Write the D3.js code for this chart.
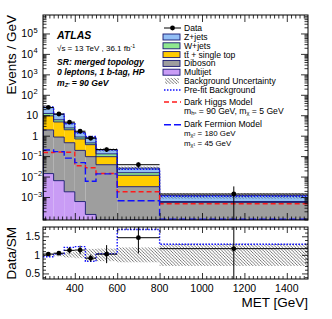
<!DOCTYPE html>
<html>
<head>
<meta charset="utf-8">
<script src="https://cdn.jsdelivr.net/npm/d3@7"></script>
<style>
body { margin: 0; background: #fff; }
svg { font-family: "Liberation Sans", Arial, Helvetica, sans-serif; }
</style>
</head>
<body>
<div id="wrapper"></div>
<script>
//****************************1. Data

const binEdges = [250, 300, 350, 400, 450, 500, 600, 800, 1500]

const dataVals    = [24, 11.5, 4.6, 1.65, 0.75, 0.21, 0.038, 0.0014]
const dataErrUp   = [1.0, 0.6, 0.35, 0.17, 0.08, 0.05, 0.011, 0.0019]
const dataErrDown = [1.0, 0.6, 0.35, 0.17, 0.08, 0.05, 0.011, 0.0014]

const multijet = [0.014, 0.0063, 0.0018, 0.0006, 0.00014, 0, 0, 0]
const diboson  = [1.9, 0.85, 0.45, 0.19, 0.094, 0.038, 0.0032, 0.00055]
const ttbar    = [7.4, 3.85, 1.5, 0.5, 0.27, 0.056, 0.0083, 0.00002]
const wjets    = [2.9, 1.3, 0.45, 0.17, 0.08, 0.035, 0.004, 0.00003]
const zjets    = [11.3, 5.0, 1.7, 0.6, 0.38, 0.077, 0.0105, 0.0006]

const bkgUnc   = [0.03, 0.04, 0.07, 0.09, 0.16, 0.17, 0.2, 0.3]   // relative
const prefit   = [25.3, 11.2, 3.83, 1.35, 0.91, 0.204, 0.0226, 0.00109]

const darkHiggs   = [0.15, 0.16, 0.155, 0.034, 0.027, 0.014, 0.0018, 0.00047]
const darkFermion = [0.2, 0.165, 0.08, 0.048, 0.0059, 0.0135, 0.00066, 0.000083]

const yMajor = [1e-3, 1e-2, 1e-1, 1, 10, 1e2, 1e3, 1e4, 1e5]
const yLabels = [["10","-3"],["10","-2"],["10","-1"],["1",""],["10",""],["10","2"],["10","3"],["10","4"],["10","5"]]
const xMajor = [400, 600, 800, 1000, 1200, 1400]
const rMajor = [0.5, 1, 1.5]
const rLabels = ["0.5", "1", "1.5"]

const stackKeys = ["multijet", "diboson", "ttbar", "wjets", "zjets"]
const stackColors = {multijet: "#c99cf5", diboson: "#9e9e9e", ttbar: "#ffcc00", wjets: "#8fe88f", zjets: "#93bff5"}

//****************************2. Dimensions

const dims = {
    width: 332, height: 319,
    left: 43, right: 308,
    mainTop: 15, mainBottom: 220,
    ratioTop: 227, ratioBottom: 279
}

const outline = "#161670"

//****************************3. Canvas

const svg = d3.select("#wrapper").append("svg")
    .attr("width", dims.width)
    .attr("height", dims.height)

const defs = svg.append("defs")
const hatch = defs.append("pattern")
    .attr("id", "hatch")
    .attr("patternUnits", "userSpaceOnUse")
    .attr("width", 3.2).attr("height", 3.2)
hatch.append("path")
    .attr("d", "M-1,-1 L4.2,4.2 M-1,2.2 L1,4.2 M2.2,-1 L4.2,1")
    .attr("stroke", "#222").attr("stroke-width", 0.6)

defs.append("clipPath").attr("id", "clipMain").append("rect")
    .attr("x", dims.left).attr("y", dims.mainTop)
    .attr("width", dims.right - dims.left).attr("height", dims.mainBottom - dims.mainTop)
defs.append("clipPath").attr("id", "clipRatio").append("rect")
    .attr("x", dims.left).attr("y", dims.ratioTop)
    .attr("width", dims.right - dims.left).attr("height", dims.ratioBottom - dims.ratioTop)

//****************************4. Scales

const xScale = d3.scaleLinear().domain([250, 1500]).range([dims.left, dims.right])
const yScale = d3.scaleLog().domain([7.5e-5, 8e5]).range([dims.mainBottom, dims.mainTop]).clamp(true)
const rScale = d3.scaleLinear().domain([0.35, 1.75]).range([dims.ratioBottom, dims.ratioTop]).clamp(true)
const yMin = yScale.domain()[0]
const yv = v => yScale(Math.max(v, yMin))

const bins = d3.range(binEdges.length - 1).map(i => ({
    i, lo: binEdges[i], hi: binEdges[i + 1], mid: (binEdges[i] + binEdges[i + 1]) / 2,
    multijet: multijet[i], diboson: diboson[i], ttbar: ttbar[i], wjets: wjets[i], zjets: zjets[i]
}))
bins.forEach(b => { b.total = d3.sum(stackKeys, k => b[k]) })

const series = d3.stack().keys(stackKeys)(bins)

// step path helper: values per bin -> outline
const stepPath = (vals, ys) => {
    const pts = []
    vals.forEach((v, i) => { pts.push([xScale(binEdges[i]), ys(v)]) })
    pts.push([xScale(binEdges[binEdges.length - 1]), ys(vals[vals.length - 1])])
    return d3.line().curve(d3.curveStepAfter)(pts)
}

//****************************5. Main panel

const main = svg.append("g").attr("clip-path", "url(#clipMain)")

series.forEach(s => {
    main.append("g").selectAll("rect")
        .data(s)
        .join("rect")
        .attr("x", (d, i) => xScale(binEdges[i]))
        .attr("width", (d, i) => xScale(binEdges[i + 1]) - xScale(binEdges[i]))
        .attr("y", d => yv(d[1]))
        .attr("height", d => Math.max(0, yv(d[0]) - yv(d[1])))
        .attr("fill", stackColors[s.key])
})

series.forEach(s => {
    const tops = s.map(d => d[1])
    const pts = [[xScale(binEdges[0]), dims.mainBottom + 2]]
    tops.forEach((v, i) => pts.push([xScale(binEdges[i]), yv(v)]))
    pts.push([xScale(binEdges[binEdges.length - 1]), yv(tops[tops.length - 1])])
    main.append("path")
        .attr("d", d3.line().curve(d3.curveStepAfter)(pts))
        .attr("fill", "none").attr("stroke", outline).attr("stroke-width", 0.9)
})

// background uncertainty
main.append("g").selectAll("rect")
    .data(bins)
    .join("rect")
    .attr("x", d => xScale(d.lo))
    .attr("width", d => xScale(d.hi) - xScale(d.lo))
    .attr("y", d => yv(d.total * (1 + bkgUnc[d.i])))
    .attr("height", d => yv(d.total * (1 - bkgUnc[d.i])) - yv(d.total * (1 + bkgUnc[d.i])))
    .attr("fill", "url(#hatch)")

// prefit background
main.append("path")
    .attr("d", stepPath(prefit, yv))
    .attr("fill", "none").attr("stroke", "#1010ff").attr("stroke-width", 1.4)
    .attr("stroke-dasharray", "1.5,1.5")

// signals
main.append("path")
    .attr("d", stepPath(darkHiggs, yv))
    .attr("fill", "none").attr("stroke", "#ff1a1a").attr("stroke-width", 1.4)
    .attr("stroke-dasharray", "5,3")
main.append("path")
    .attr("d", stepPath(darkFermion, yv))
    .attr("fill", "none").attr("stroke", "#1010ff").attr("stroke-width", 1.4)
    .attr("stroke-dasharray", "7,3")

// data
const dataG = main.append("g")
bins.forEach(b => {
    const i = b.i
    dataG.append("line")
        .attr("x1", xScale(b.lo)).attr("x2", xScale(b.hi))
        .attr("y1", yv(dataVals[i])).attr("y2", yv(dataVals[i]))
        .attr("stroke", "black").attr("stroke-width", 1)
    dataG.append("line")
        .attr("x1", xScale(b.mid)).attr("x2", xScale(b.mid))
        .attr("y1", yv(dataVals[i] + dataErrUp[i]))
        .attr("y2", dataVals[i] - dataErrDown[i] > 0 ? yv(dataVals[i] - dataErrDown[i]) : dims.mainBottom + 2)
        .attr("stroke", "black").attr("stroke-width", 1)
    dataG.append("circle")
        .attr("cx", xScale(b.mid)).attr("cy", yv(dataVals[i])).attr("r", 2.4)
        .attr("fill", "black")
})

//****************************6. Ratio panel

const ratio = svg.append("g").attr("clip-path", "url(#clipRatio)")

ratio.append("g").selectAll("rect")
    .data(bins)
    .join("rect")
    .attr("x", d => xScale(d.lo))
    .attr("width", d => xScale(d.hi) - xScale(d.lo))
    .attr("y", d => rScale(1 + bkgUnc[d.i]))
    .attr("height", d => rScale(1 - bkgUnc[d.i]) - rScale(1 + bkgUnc[d.i]))
    .attr("fill", "url(#hatch)")

const prefitRatio = bins.map(b => dataVals[b.i] / prefit[b.i])
ratio.append("path")
    .attr("d", stepPath(prefitRatio, rScale))
    .attr("fill", "none").attr("stroke", "#1010ff").attr("stroke-width", 1.4)
    .attr("stroke-dasharray", "1.5,1.5")

bins.forEach(b => {
    const i = b.i
    const r = dataVals[i] / b.total
    const up = (dataVals[i] + dataErrUp[i]) / b.total
    const dn = (dataVals[i] - dataErrDown[i]) / b.total
    ratio.append("line")
        .attr("x1", xScale(b.lo)).attr("x2", xScale(b.hi))
        .attr("y1", rScale(r)).attr("y2", rScale(r))
        .attr("stroke", "black").attr("stroke-width", 1)
    ratio.append("line")
        .attr("x1", xScale(b.mid)).attr("x2", xScale(b.mid))
        .attr("y1", rScale(up) - (up > 1.75 ? 2 : 0)).attr("y2", rScale(dn) + (dn < 0.35 ? 2 : 0))
        .attr("stroke", "black").attr("stroke-width", 1)
    ratio.append("circle")
        .attr("cx", xScale(b.mid)).attr("cy", rScale(r)).attr("r", 2.4)
        .attr("fill", "black")
})

//****************************7. Axes

const xMinor = d3.range(260, 1500, 20).filter(v => v % 200 !== 0)
const yMinor = []
d3.range(-5, 6).forEach(e => d3.range(2, 10).forEach(m => {
    const v = m * Math.pow(10, e)
    if (v > 7.5e-5 && v < 8e5) yMinor.push(v)
}))
const rMinor = d3.range(0.4, 1.75, 0.1).map(v => +v.toFixed(2)).filter(v => !rMajor.includes(v))

const axes = svg.append("g")
const addAxis = (gen, scale, values, size, tx, ty) => {
    const g = axes.append("g")
        .attr("transform", `translate(${tx},${ty})`)
        .call(gen(scale).tickValues(values).tickSize(-size).tickFormat(""))
    g.select(".domain").remove()
    g.selectAll(".tick line").attr("stroke", "black").attr("stroke-width", 0.8)
    return g
}

// main panel x ticks (bottom & top)
addAxis(d3.axisBottom, xScale, xMajor, 7, 0, dims.mainBottom)
addAxis(d3.axisBottom, xScale, xMinor, 3.5, 0, dims.mainBottom)
addAxis(d3.axisTop, xScale, xMajor, 7, 0, dims.mainTop)
addAxis(d3.axisTop, xScale, xMinor, 3.5, 0, dims.mainTop)
// main panel y ticks
addAxis(d3.axisLeft, yScale, yMajor, 7, dims.left, 0)
addAxis(d3.axisLeft, yScale, yMinor, 3.5, dims.left, 0)
addAxis(d3.axisRight, yScale, yMajor, 7, dims.right, 0)
addAxis(d3.axisRight, yScale, yMinor, 3.5, dims.right, 0)
// ratio panel
addAxis(d3.axisBottom, xScale, xMajor, 6, 0, dims.ratioBottom)
addAxis(d3.axisBottom, xScale, xMinor, 3, 0, dims.ratioBottom)
addAxis(d3.axisTop, xScale, xMajor, 6, 0, dims.ratioTop)
addAxis(d3.axisTop, xScale, xMinor, 3, 0, dims.ratioTop)
addAxis(d3.axisLeft, rScale, rMajor, 6, dims.left, 0)
addAxis(d3.axisLeft, rScale, rMinor, 3, dims.left, 0)
addAxis(d3.axisRight, rScale, rMajor, 6, dims.right, 0)
addAxis(d3.axisRight, rScale, rMinor, 3, dims.right, 0)

// frames
svg.append("rect").attr("x", dims.left).attr("y", dims.mainTop)
    .attr("width", dims.right - dims.left).attr("height", dims.mainBottom - dims.mainTop)
    .attr("fill", "none").attr("stroke", "black").attr("stroke-width", 1)
svg.append("rect").attr("x", dims.left).attr("y", dims.ratioTop)
    .attr("width", dims.right - dims.left).attr("height", dims.ratioBottom - dims.ratioTop)
    .attr("fill", "none").attr("stroke", "black").attr("stroke-width", 1)

// tick labels
const yLab = svg.append("g").attr("font-size", 10.5)
yMajor.forEach((v, i) => {
    yLab.append("text")
        .attr("x", dims.left - (yLabels[i][1] ? 10 : 5))
        .attr("y", yScale(v) + 4)
        .attr("text-anchor", "end")
        .text(yLabels[i][0])
    if (yLabels[i][1]) {
        yLab.append("text")
            .attr("x", dims.left - 10 + 0.5)
            .attr("y", yScale(v) - 0.5)
            .attr("font-size", 7.5)
            .text(yLabels[i][1].replace("-", "\u2212"))
    }
})

const rLab = svg.append("g").attr("font-size", 10.5).attr("text-anchor", "end")
rMajor.forEach((v, i) => {
    rLab.append("text").attr("x", dims.left - 3).attr("y", rScale(v) + 4).text(rLabels[i])
})

const xLab = svg.append("g").attr("font-size", 10.5).attr("text-anchor", "middle")
xMajor.forEach(v => {
    xLab.append("text").attr("x", xScale(v)).attr("y", dims.ratioBottom + 13).text(v)
})

// axis titles
svg.append("text")
    .attr("transform", `translate(16,${dims.mainTop}) rotate(-90)`)
    .attr("text-anchor", "end").attr("font-size", 13.5)
    .text("Events / GeV")
svg.append("text")
    .attr("transform", `translate(16,${dims.ratioTop}) rotate(-90)`)
    .attr("text-anchor", "end").attr("font-size", 13.5)
    .text("Data/SM")
svg.append("text")
    .attr("x", dims.right).attr("y", 307)
    .attr("text-anchor", "end").attr("font-size", 13.5)
    .text("MET [GeV]")

//****************************8. Labels & legend

// rich text helper: parts [{t, lvl}] lvl 0 normal, 1 sub, 2 index on sub, -1 sup
const richText = (g, xPos, yPos, size, parts, style) => {
    const txt = g.append("text").attr("x", xPos).attr("y", yPos).attr("font-size", size)
    if (style) Object.entries(style).forEach(([k, v]) => txt.style(k, v))
    let cur = 0
    parts.forEach(p => {
        const lvl = p.lvl || 0
        const off = lvl === -1 ? -0.38 * size : lvl === 1 ? 0.12 * size : lvl === 2 ? 0.0 : 0
        const fs = lvl === 0 ? size : lvl === 2 ? size * 0.48 : size * 0.66
        txt.append("tspan").attr("dy", off - cur).attr("font-size", fs).text(p.t)
        cur = off
    })
    return txt
}

const info = svg.append("g")
info.append("text").attr("x", 57).attr("y", 38.5).attr("font-size", 10.5)
    .attr("font-weight", "bold").attr("font-style", "italic").text("ATLAS")
richText(info, 57, 51, 8, [{t: "\u221As = 13 TeV , 36.1 fb"}, {t: "-1", lvl: -1}])
const bi = {"font-weight": "bold", "font-style": "italic"}
richText(info, 57, 64.5, 8.6, [{t: "SR: merged topology"}], bi)
richText(info, 57, 75, 8.6, [{t: "0 leptons, 1 b-tag, HP"}], bi)
richText(info, 57, 85.5, 8.6, [{t: "m"}, {t: "Z'", lvl: 1}, {t: " = 90 GeV"}], bi)

const legend = svg.append("g")
const lx0 = 162, lx1 = 181, tx = 184, fsL = 8.6

// data
legend.append("line").attr("x1", lx0 + 2).attr("x2", lx1).attr("y1", 28).attr("y2", 28).attr("stroke", "black")
legend.append("circle").attr("cx", (lx0 + lx1) / 2 + 1).attr("cy", 28).attr("r", 2.4).attr("fill", "black")
richText(legend, tx, 31, fsL, [{t: "Data"}])

const boxEntries = [
    {key: "zjets", label: "Z+jets", y: 37},
    {key: "wjets", label: "W+jets", y: 45.8},
    {key: "ttbar", label: "tt\u0304 + single top", y: 54.6},
    {key: "diboson", label: "Diboson", y: 63.4},
    {key: "multijet", label: "Multijet", y: 72.2}
]
boxEntries.forEach(e => {
    legend.append("rect").attr("x", lx0 + 1).attr("y", e.y - 3).attr("width", lx1 - lx0 - 2).attr("height", 6)
        .attr("fill", stackColors[e.key]).attr("stroke", outline).attr("stroke-width", 0.9)
    richText(legend, tx, e.y + 3, fsL, [{t: e.label}])
})
legend.append("rect").attr("x", lx0 + 3).attr("y", 78).attr("width", lx1 - lx0 - 5).attr("height", 6)
    .attr("fill", "url(#hatch)")
richText(legend, tx, 84, fsL, [{t: "Background Uncertainty"}])

legend.append("line").attr("x1", lx0 + 2).attr("x2", lx1).attr("y1", 90).attr("y2", 90)
    .attr("stroke", "#1010ff").attr("stroke-width", 1.4).attr("stroke-dasharray", "1.5,1.5")
richText(legend, tx, 93, fsL, [{t: "Pre-fit Background"}])

legend.append("line").attr("x1", lx0 + 2).attr("x2", lx1).attr("y1", 102).attr("y2", 102)
    .attr("stroke", "#ff1a1a").attr("stroke-width", 1.4).attr("stroke-dasharray", "5,3")
richText(legend, tx, 105, fsL, [{t: "Dark Higgs Model"}])
richText(legend, tx, 114, fsL, [{t: "m"}, {t: "h", lvl: 1}, {t: "s", lvl: 2}, {t: " = 90 GeV, m"}, {t: "\u03C7", lvl: 1}, {t: " = 5 GeV"}])

legend.append("line").attr("x1", lx0 + 2).attr("x2", lx1).attr("y1", 124.7).attr("y2", 124.7)
    .attr("stroke", "#1010ff").attr("stroke-width", 1.4).attr("stroke-dasharray", "7,3")
richText(legend, tx, 127.3, fsL, [{t: "Dark Fermion Model"}])
richText(legend, tx, 136.3, 7.9, [{t: "m"}, {t: "\u03C7", lvl: 1}, {t: "2", lvl: 2}, {t: " = 180 GeV"}])
richText(legend, tx, 145.6, 7.9, [{t: "m"}, {t: "\u03C7", lvl: 1}, {t: "1", lvl: 2}, {t: " = 45 GeV"}])
</script>
</body>
</html>
